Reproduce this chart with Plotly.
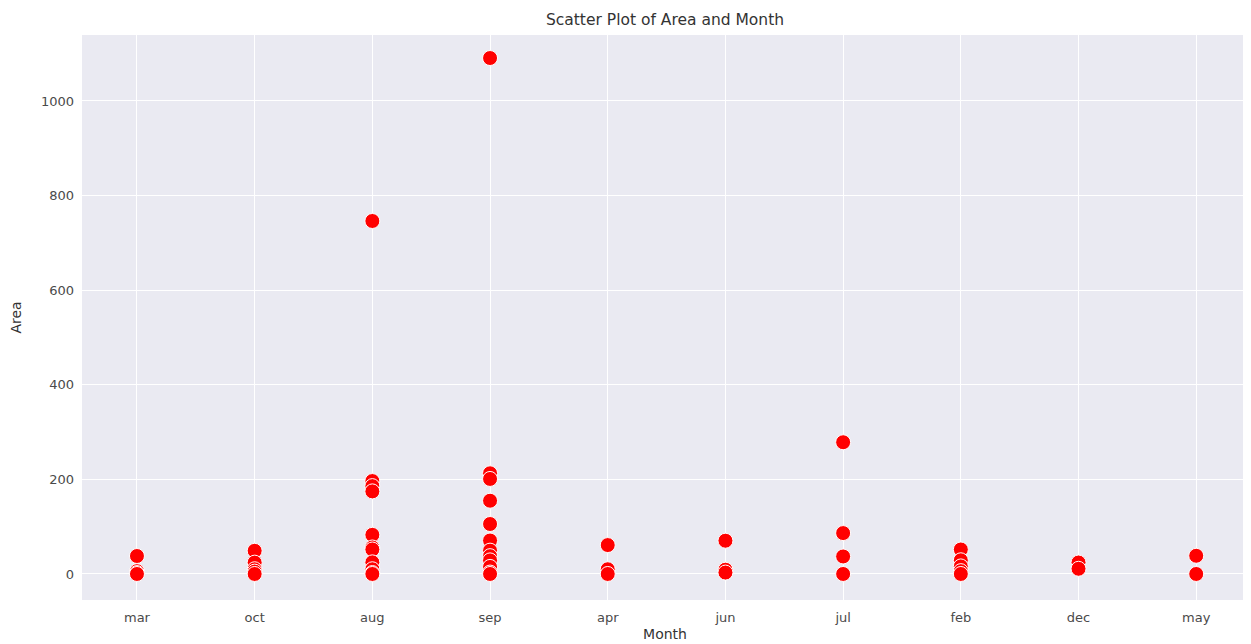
import plotly.graph_objects as go

months = ["mar", "oct", "aug", "sep", "apr", "jun", "jul", "feb", "dec", "may"]
area_mar = [38.0, 6.0, 2.0, 0.0]
area_oct = [49.0, 24.0, 10.0, 5.0, 0.0]
area_aug = [746.28, 196.48, 185.76, 174.63, 82.75, 56.04, 51.78, 24.6, 10.0, 2.0, 0.0]
area_sep = [1090.84, 212.88, 200.94, 154.88, 105.66, 70.76, 49.37, 37.71, 28.74, 15.0, 3.0, 0.0]
area_apr = [61.13, 10.0, 0.0]
area_jun = [70.32, 9.0, 3.0]
area_jul = [278.53, 86.45, 37.02, 0.0]
area_feb = [51.78, 29.0, 16.0, 6.0, 0.0]
area_dec = [24.23, 11.0]
area_may = [38.48, 0.0]
y_ticks = [0, 200, 400, 600, 800, 1000]

series = [area_mar, area_oct, area_aug, area_sep, area_apr,
          area_jun, area_jul, area_feb, area_dec, area_may]
xs, ys = [], []
for m, vals in zip(months, series):
    for v in vals:
        xs.append(m)
        ys.append(v)

fig = go.Figure(go.Scatter(
    x=xs, y=ys, mode="markers",
    marker=dict(color="#FF0000", size=15, line=dict(color="white", width=1)),
    showlegend=False,
))

W, H = 1243, 636
font = "DejaVu Sans, Liberation Sans, sans-serif"
fig.update_layout(
    width=W, height=H,
    margin=dict(l=74, r=3, t=27, b=44),
    paper_bgcolor="white", plot_bgcolor="#EAEAF2",
    font=dict(family=font, color="#333333", size=13),
    title=dict(text="Scatter Plot of Area and Month", x=0.5, xanchor="center",
               xref="paper", y=1 - 12 / H, yref="container", yanchor="middle",
               font=dict(size=15.5, color="#333333")),
    xaxis=dict(type="category", categoryorder="array", categoryarray=months,
               range=[-0.467, 9.44], showgrid=True, gridcolor="white", gridwidth=1,
               zeroline=False, showline=False, ticks="", automargin=False,
               ticklabelstandoff=8,
               title=dict(text="Month", standoff=5, font=dict(size=14)),
               tickfont=dict(size=13, color="#4a4a4a")),
    yaxis=dict(range=[-55, 1139.5], tickvals=y_ticks, showgrid=True,
               gridcolor="white", gridwidth=1, zeroline=False, showline=False,
               ticks="", automargin=False, ticklabelstandoff=7,
               title=dict(text="Area", standoff=16, font=dict(size=14)),
               tickfont=dict(size=13, color="#4a4a4a")),
)

fig.write_html("out.html")
